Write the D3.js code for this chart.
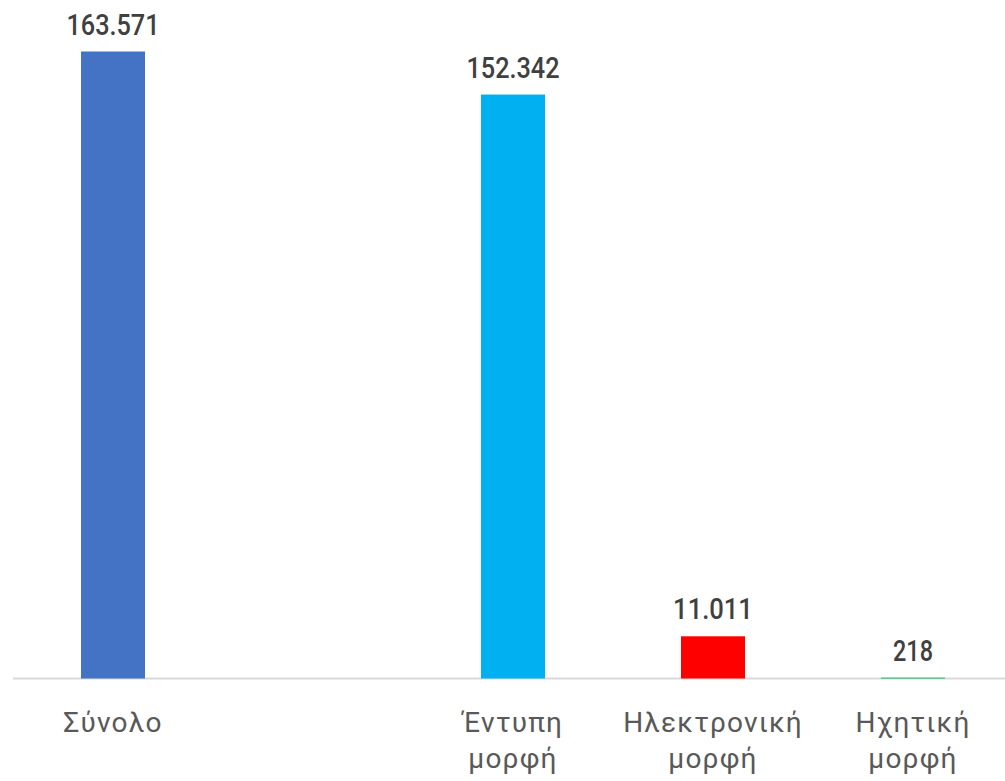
<!DOCTYPE html>
<html>
<head>
<meta charset="utf-8">
<script src="https://cdn.jsdelivr.net/npm/d3@7"></script>
<style>
  html, body { margin: 0; padding: 0; background: #ffffff; }
  svg { display: block; }
</style>
</head>
<body>
<svg id="chart" width="1005" height="781"></svg>
<script>
const categories = ["Σύνολο", "", "Έντυπη μορφή", "Ηλεκτρονική μορφή", "Ηχητική μορφή"];
const labelLines = [["Σύνολο"], [], ["Έντυπη", "μορφή"], ["Ηλεκτρονική", "μορφή"], ["Ηχητική", "μορφή"]];
const values = [163571, null, 152342, 11011, 218];
const valueLabels = ["163.571", "", "152.342", "11.011", "218"];
const colors = ["#4472c4", "none", "#00b0f0", "#ff0000", "#00b050"];

const svg = d3.select("#chart");
const W = 1005, H = 781;
const baseY = 678.5, topY = 51.5;

const x = d3.scaleBand().domain(d3.range(categories.length)).range([13, 1013]).paddingInner(0.68).paddingOuter(0.34);
const y = d3.scaleLinear().domain([0, 163571]).range([baseY, topY]);

// baseline axis line
svg.append("line")
  .attr("x1", 13).attr("x2", W)
  .attr("y1", baseY).attr("y2", baseY)
  .attr("stroke", "#d9d9d9").attr("stroke-width", 2);

const idx = d3.range(categories.length).filter(i => values[i] != null);

svg.selectAll("rect.bar").data(idx).enter().append("rect")
  .attr("class", "bar")
  .attr("x", i => x(i))
  .attr("width", x.bandwidth())
  .attr("y", i => y(values[i]))
  .attr("height", i => baseY - y(values[i]))
  .attr("fill", i => colors[i]);

svg.selectAll("text.val").data(idx).enter().append("text")
  .attr("class", "val")
  .attr("x", i => x(i) + x.bandwidth() / 2)
  .attr("y", i => y(values[i]) - 17)
  .attr("text-anchor", "middle")
  .attr("font-family", "Roboto, sans-serif")
  .attr("font-weight", 500)
  .attr("font-size", 30)
  .attr("fill", "#404040")
  .attr("textLength", i => valueLabels[i].length * 13.3)
  .attr("lengthAdjust", "spacingAndGlyphs")
  .text(i => valueLabels[i]);

const cat = svg.selectAll("g.cat").data(d3.range(categories.length)).enter().append("g")
  .attr("class", "cat")
  .attr("transform", i => `translate(${x(i) + x.bandwidth() / 2},0)`);

cat.each(function(i) {
  const g = d3.select(this);
  labelLines[i].forEach((ln, k) => {
    g.append("text")
      .attr("x", 0)
      .attr("y", 732 + k * 36)
      .attr("text-anchor", "middle")
      .attr("font-family", "Roboto, sans-serif")
      .attr("font-size", 28)
      .attr("letter-spacing", 1.2)
      .attr("fill", "#595959")
      .text(ln);
  });
});
</script>
</body>
</html>
